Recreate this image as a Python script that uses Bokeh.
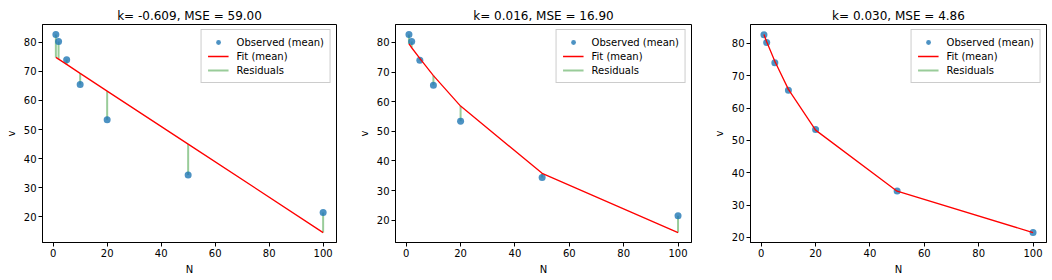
from bokeh.plotting import figure
from bokeh.layouts import row
from bokeh.models import Range1d, FixedTicker, Legend, LegendItem
from bokeh.embed import file_html
from bokeh.resources import INLINE

# ---- data ----
N = [1, 2, 5, 10, 20, 50, 100]
observed = [82.7, 80.3, 74.0, 65.5, 53.4, 34.4, 21.5]
fit_linear = [74.8, 74.2, 72.4, 69.3, 63.2, 45.0, 14.6]
fit_k016 = [79.5, 78.2, 74.6, 68.8, 58.5, 35.8, 15.8]
fit_k030 = [82.8, 80.5, 74.5, 65.8, 53.2, 34.3, 21.5]
k_values = ["-0.609", "0.016", "0.030"]
mse_values = ["59.00", "16.90", "4.86"]
fits = [fit_linear, fit_k016, fit_k030]
x_ticks = [0, 20, 40, 60, 80, 100]
y_ticks = [20, 30, 40, 50, 60, 70, 80]

FONT = "DejaVu Sans"

# layout: (fig width, border left, border right)
layouts = [(350, 42, 14), (350, 45, 9), (352, 50, 6)]
TOP, BOTTOM, H = 24, 38, 280

figs = []
for i in range(3):
    fw, bl, br = layouts[i]
    fit = fits[i]
    ymin = min(min(observed), min(fit))
    ymax = max(max(observed), max(fit))
    pad = (ymax - ymin) * 0.05
    p = figure(width=fw, height=H, output_backend="svg", toolbar_location=None,
               x_range=Range1d(-3.95, 104.95), y_range=Range1d(ymin - pad, ymax + pad),
               min_border_left=bl, min_border_right=br, min_border_top=TOP,
               min_border_bottom=BOTTOM,
               title="k= %s, MSE = %s" % (k_values[i], mse_values[i]))
    p.title.align = "center"
    p.title.text_font = FONT
    p.title.text_font_size = "12px"
    p.title.text_font_style = "normal"
    p.title.text_color = "black"
    p.title.standoff = 4
    p.grid.visible = False
    p.outline_line_color = "black"
    p.outline_line_alpha = 1.0
    p.outline_line_width = 1
    p.background_fill_color = "white"
    p.border_fill_color = "white"
    for ax in (p.xaxis[0], p.yaxis[0]):
        ax.minor_tick_line_color = None
        ax.major_tick_in = 0
        ax.major_tick_out = 4
        ax.major_tick_line_color = "black"
        ax.axis_line_color = "black"
        ax.major_label_text_font = FONT
        ax.major_label_text_font_size = "10px"
        ax.major_label_text_color = "black"
        ax.axis_label_text_font = FONT
        ax.axis_label_text_font_size = "10px"
        ax.axis_label_text_font_style = "normal"
        ax.axis_label_text_color = "black"
        ax.major_label_standoff = 2
        ax.axis_label_standoff = 4
    p.xaxis[0].ticker = FixedTicker(ticks=x_ticks)
    p.yaxis[0].ticker = FixedTicker(ticks=y_ticks)
    p.xaxis[0].axis_label = "N"
    p.yaxis[0].axis_label = "v"

    res = p.segment(x0=N, y0=observed, x1=N, y1=fit, line_color="green",
                    line_alpha=0.4, line_width=2)
    obs = p.scatter(x=N, y=observed, size=7, fill_color="#1f77b4", fill_alpha=0.8,
                    line_color=None)
    fl = p.line(x=N, y=fit, line_color="red", line_width=1.3)

    legend = Legend(items=[LegendItem(label="Observed (mean)", renderers=[obs]),
                           LegendItem(label="Fit (mean)", renderers=[fl]),
                           LegendItem(label="Residuals", renderers=[res])],
                    location="top_right")
    legend.label_text_font = FONT
    legend.label_text_font_size = "10px"
    legend.label_text_color = "black"
    legend.label_height = 12
    legend.glyph_height = 12
    legend.glyph_width = 21
    legend.label_standoff = 8
    legend.spacing = 2
    legend.padding = 6
    legend.margin = 5
    legend.border_line_color = "#cccccc"
    legend.border_line_alpha = 1.0
    legend.background_fill_alpha = 0.8
    p.add_layout(legend, "center")
    figs.append(p)

layout = row(*figs, spacing=0)
open("out.html", "w").write(file_html(layout, INLINE))
